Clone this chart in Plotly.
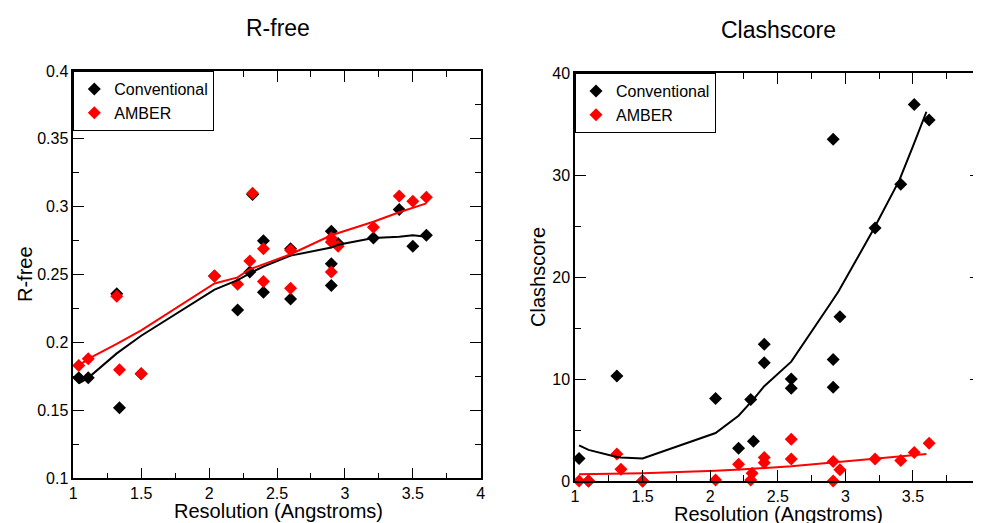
import plotly.graph_objects as go

# ---------------- data: R-free panel ----------------
rfree_conv_x = [1.04, 1.11, 1.32, 1.34, 1.50, 2.04, 2.21, 2.30, 2.32, 2.40, 2.40,
                2.60, 2.60, 2.90, 2.90, 2.90, 2.95, 3.21, 3.40, 3.50, 3.60]
rfree_conv_y = [0.174, 0.174, 0.236, 0.152, 0.177, 0.249, 0.224, 0.252, 0.309, 0.275, 0.237,
                0.269, 0.232, 0.282, 0.258, 0.242, 0.273, 0.277, 0.298, 0.271, 0.279]
rfree_amber_x = [1.04, 1.11, 1.32, 1.34, 1.50, 2.04, 2.21, 2.30, 2.32, 2.40, 2.40,
                 2.60, 2.60, 2.90, 2.90, 2.90, 2.95, 3.21, 3.40, 3.50, 3.60]
rfree_amber_y = [0.183, 0.188, 0.234, 0.180, 0.177, 0.249, 0.243, 0.260, 0.310, 0.269, 0.245,
                 0.268, 0.240, 0.277, 0.274, 0.252, 0.271, 0.285, 0.308, 0.304, 0.307]
rfree_conv_fit_x = [1.04, 1.11, 1.32, 1.50, 2.04, 2.21, 2.30, 2.40, 2.60, 2.90, 2.95, 3.21, 3.40, 3.50, 3.60]
rfree_conv_fit_y = [0.170, 0.174, 0.192, 0.205, 0.239, 0.246, 0.251, 0.256, 0.264, 0.270, 0.272,
                    0.277, 0.278, 0.279, 0.278]
rfree_amber_fit_x = [1.04, 1.11, 1.32, 1.50, 2.04, 2.21, 2.30, 2.60, 2.90, 3.21, 3.40, 3.60]
rfree_amber_fit_y = [0.183, 0.188, 0.199, 0.209, 0.2435, 0.248, 0.254, 0.265, 0.279, 0.289, 0.296, 0.3025]

# ---------------- data: Clashscore panel ----------------
clash_conv_x = [1.03, 1.10, 1.31, 1.50, 2.04, 2.21, 2.30, 2.32, 2.40, 2.40, 2.60, 2.60,
                2.91, 2.91, 2.91, 2.96, 3.22, 3.41, 3.51, 3.62]
clash_conv_y = [2.2, 0.0, 10.3, 0.0, 8.1, 3.2, 8.0, 3.9, 13.4, 11.6, 10.0, 9.1,
                33.5, 11.9, 9.2, 16.1, 24.8, 29.1, 36.9, 35.4]
clash_amber_x = [1.03, 1.10, 1.31, 1.34, 1.50, 2.04, 2.21, 2.30, 2.31, 2.40, 2.40, 2.60, 2.60,
                 2.91, 2.91, 2.96, 3.22, 3.41, 3.51, 3.62]
clash_amber_y = [0.0, 0.0, 2.65, 1.15, 0.0, 0.1, 1.65, 0.1, 0.75, 2.3, 1.8, 4.1, 2.15,
                 1.9, 0.0, 1.1, 2.15, 2.0, 2.8, 3.7]
clash_conv_fit_x = [1.03, 1.10, 1.31, 1.34, 1.50, 2.04, 2.21, 2.30, 2.32, 2.40, 2.60, 2.90,
                    2.95, 3.21, 3.40, 3.50, 3.60]
clash_conv_fit_y = [3.5, 3.05, 2.35, 2.3, 2.2, 4.7, 6.4, 7.7, 8.0, 9.3, 11.7, 17.6,
                    18.6, 24.7, 29.5, 32.8, 36.2]
clash_amber_fit_x = [1.03, 1.50, 2.04, 2.22, 2.60, 2.91, 3.22, 3.60]
clash_amber_fit_y = [0.65, 0.75, 1.0, 1.12, 1.45, 1.83, 2.16, 2.65]

series_names = ["Conventional", "AMBER"]
colors = ["black", "#ff0000"]

FONT = "Liberation Sans, Arial, Helvetica, sans-serif"
# The page body has an 8px margin, so the figure is drawn 8px in from the
# window's top-left corner; size and place everything relative to that.
OFF = 8
W, H = 981 - OFF, 523 - OFF

fig = go.Figure()

panels = [
    ("x", "y", "legend", rfree_conv_x, rfree_conv_y, rfree_amber_x, rfree_amber_y,
     rfree_conv_fit_x, rfree_conv_fit_y, rfree_amber_fit_x, rfree_amber_fit_y),
    ("x2", "y2", "legend2", clash_conv_x, clash_conv_y, clash_amber_x, clash_amber_y,
     clash_conv_fit_x, clash_conv_fit_y, clash_amber_fit_x, clash_amber_fit_y),
]

for xa, ya, lg, cx, cy, ax, ay, cfx, cfy, afx, afy in panels:
    fig.add_trace(go.Scatter(x=cx, y=cy, mode="markers", name=series_names[0],
                             marker=dict(symbol="diamond", size=10, color=colors[0]),
                             xaxis=xa, yaxis=ya, legend=lg, cliponaxis=False))
    fig.add_trace(go.Scatter(x=ax, y=ay, mode="markers", name=series_names[1],
                             marker=dict(symbol="diamond", size=10, color=colors[1]),
                             xaxis=xa, yaxis=ya, legend=lg, cliponaxis=False))
    fig.add_trace(go.Scatter(x=cfx, y=cfy, mode="lines", line=dict(color=colors[0], width=2),
                             showlegend=False, xaxis=xa, yaxis=ya))
    fig.add_trace(go.Scatter(x=afx, y=afy, mode="lines", line=dict(color=colors[1], width=2),
                             showlegend=False, xaxis=xa, yaxis=ya))


def axis_common(rng, dtick, minor_dtick):
    return dict(range=rng, dtick=dtick, tick0=rng[0], ticks="inside", ticklen=11, tickwidth=1,
                tickcolor="black", showline=True, linecolor="black", linewidth=1.5,
                mirror="allticks", showgrid=False, zeroline=False, automargin=False,
                ticklabeloverflow="allow",
                tickfont=dict(size=16, color="black", family=FONT),
                minor=dict(ticks="inside", ticklen=6, tickwidth=1, tickcolor="black",
                           dtick=minor_dtick, tick0=rng[0], showgrid=False))


px = lambda v: (v - OFF) / W
py = lambda v: 1 - (v - OFF) / H

fig.update_layout(
    width=W, height=H,
    margin=dict(l=0, r=0, t=0, b=0, autoexpand=False),
    paper_bgcolor="white", plot_bgcolor="white",
    font=dict(family=FONT, color="black"),
    xaxis=dict(domain=[px(73.3), px(480.7)], anchor="y", **axis_common([1, 4], 0.5, 0.25)),
    yaxis=dict(domain=[py(478.3), py(71)], anchor="x", **axis_common([0.1, 0.4], 0.05, 0.025)),
    xaxis2=dict(domain=[px(575), px(980.5)], anchor="y2", **axis_common([1, 4], 0.5, 0.25)),
    yaxis2=dict(domain=[py(481), py(73)], anchor="x2", **axis_common([0, 40], 10, 5)),
    legend=dict(x=px(73.3), y=py(71), xanchor="left", yanchor="top",
                bordercolor="black", borderwidth=1, bgcolor="white",
                font=dict(size=16, family=FONT), tracegroupgap=0),
    legend2=dict(x=px(575), y=py(73), xanchor="left", yanchor="top",
                 bordercolor="black", borderwidth=1, bgcolor="white",
                 font=dict(size=16, family=FONT), tracegroupgap=0),
    showlegend=True,
)

annos = [
    ("R-free", 278, 28, 23, 0),
    ("Clashscore", 778, 30, 23, 0),
    ("Resolution (Angstroms)", 278, 511, 20, 0),
    ("Resolution (Angstroms)", 778, 514, 20, 0),
    ("R-free", 25, 274, 20, -90),
    ("Clashscore", 538, 277, 20, -90),
]
for text, x, y, size, ang in annos:
    fig.add_annotation(text=text, x=px(x), y=py(y), xref="paper", yref="paper",
                       xanchor="center", yanchor="middle", showarrow=False,
                       textangle=ang, font=dict(size=size, family=FONT, color="black"))

fig.write_html("out.html")
